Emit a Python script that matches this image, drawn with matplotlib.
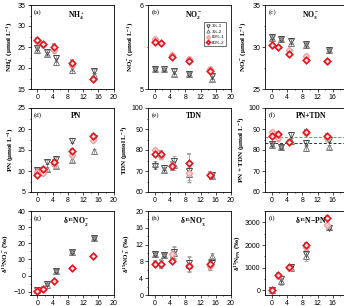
import matplotlib
matplotlib.use("Agg")
import matplotlib.pyplot as plt
from matplotlib.lines import Line2D
from matplotlib.ticker import MultipleLocator

plt.rcParams["font.family"] = ["Liberation Sans", "DejaVu Sans"]
plt.rcParams["mathtext.fontset"] = "custom"
plt.rcParams["mathtext.rm"] = "Liberation Serif:bold"
plt.rcParams["mathtext.it"] = "Liberation Serif:bold"
plt.rcParams["mathtext.bf"] = "Liberation Serif:bold"

# sampling times (two treatments sampled at slightly different times)
x3 = [0, 2.5, 5, 9, 15]
x8 = [0, 1.5, 4.5, 9, 14.5]
series = ["3%-1", "3%-2", "80%-1", "80%-2"]

# each panel: [3%-1, 3%-2, 80%-1, 80%-2]
nh4 = [[24.7, 23.7, 22.3, 20.2, 19.2], [24.4, 23.3, 21.5, 19.6, 18.4],
       [26.4, 25.5, 24.2, 20.8, 17.3], [26.7, 25.8, 25.1, 21.2, 17.4]]
no2 = [[5.24, 5.235, 5.21, 5.18, 5.15], [5.24, 5.235, 5.18, 5.175, 5.12],
       [5.60, 5.55, 5.41, 5.36, 5.24], [5.565, 5.545, 5.38, 5.33, 5.22]]
no3 = [[31.2, 31.0, 30.7, 30.3, 29.7], [31.1, 30.9, 30.5, 30.2, 29.6],
       [30.25, 30.05, 29.6, 28.9, 28.3], [30.2, 29.95, 29.15, 28.4, 28.3]]
pn = [[10.25, 12.05, 12.8, 17.15, 17.9], [10.1, 10.5, 11.3, 12.7, 14.65],
      [9.7, 9.6, 11.7, 13.9, 17.5], [9.15, 10.4, 12.05, 14.65, 18.4]]
tdn = [[72.5, 71.6, 75.0, 70.0, 68.0], [73.5, 70.6, 72.7, 68.7, 67.5],
       [80.0, 77.0, 73.0, 69.0, 68.7], [78.2, 77.9, 72.5, 74.0, 68.3]]
pn_tdn = [[83.0, 81.5, 87.0, 83.5, 85.0], [82.5, 81.3, 84.3, 81.0, 81.5],
          [88.5, 85.5, 84.0, 88.3, 85.5], [86.5, 87.5, 84.0, 88.5, 86.5]]
d15no2 = [[-9.0, -5.0, 3.0, 14.7, 23.0], [-9.2, -5.5, 2.8, 14.5, 23.3],
          [-9.3, -8.2, -3.6, 4.6, 12.2], [-9.5, -8.0, -3.5, 4.5, 12.0]]
d15no3 = [[9.7, 9.5, 10.2, 7.6, 7.7], [9.7, 9.6, 10.0, 7.2, 9.4],
          [7.5, 7.4, 9.8, 7.2, 7.0], [7.5, 7.4, 8.2, 6.9, 7.3]]
d15pn = [[0, 500, 1050, 1600, 2750], [0, 400, 1000, 1500, 2800],
         [0, 620, 1000, 1900, 2900], [0, 700, 1020, 2000, 3200]]

# standard deviations: [3% series, 80% series]
nh4_err = [[0.5, 0.5, 0.8, 0.8, 0.5], [0.4, 0.4, 0.6, 0.6, 0.4]]
no2_err = [[0.02, 0.02, 0.03, 0.03, 0.03], [0.02, 0.02, 0.02, 0.02, 0.02]]
no3_err = [[0.3, 0.3, 0.4, 0.3, 0.3], [0.2, 0.2, 0.2, 0.2, 0.2]]
pn_err = [[0.4, 0.5, 0.6, 0.6, 0.5], [0.4, 0.5, 0.5, 0.6, 0.5]]
tdn_err = [[1.5, 1.2, 2.0, 3.0, 1.0], [1.0, 1.5, 2.0, 4.0, 1.0]]
pn_tdn_err = [[1.0, 1.0, 1.5, 1.5, 1.0], [1.0, 1.0, 1.0, 1.0, 1.0]]
d15no2_err = [[0.8, 0.8, 1.0, 1.0, 1.0], [0.8, 0.8, 0.8, 0.8, 0.8]]
d15no3_err = [[0.5, 0.5, 1.5, 1.8, 0.6], [0.5, 1.0, 0.5, 0.5, 1.0]]
d15pn_err = [[50, 150, 80, 200, 100], [50, 80, 60, 100, 80]]

# mean levels shown as dashed lines in (f)
mean_80 = 86.3
mean_3 = 83.4

styles = [
    dict(marker="v", mfc="none", mec="#303030", mew=0.6, ms=4),
    dict(marker="^", mfc="none", mec="#6a6a6a", mew=0.6, ms=4),
    dict(marker="D", mfc="#fbd6d6", mec="#f3a0a0", mew=1.0, ms=3.3),
    dict(marker="D", mfc="#fde4e4", mec="#e3151c", mew=1.2, ms=3.3),
]

panels = [
    ("(a)", "NH$_4^+$", "NH$_4^+$ (μmol L$^{-1}$)", nh4, nh4_err, (15, 35), 5),
    ("(b)", "NO$_2^-$", "NO$_2^-$ (μmol L$^{-1}$)", no2, no2_err, (5, 6), 1),
    ("(c)", "NO$_3^-$", "NO$_3^-$ (μmol L$^{-1}$)", no3, no3_err, (25, 35), 5),
    ("(d)", "PN", "PN (μmol L$^{-1}$)", pn, pn_err, (5, 25), 5),
    ("(e)", "TDN", "TDN (μmol L$^{-1}$)", tdn, tdn_err, (60, 100), 10),
    ("(f)", "PN+TDN", "PN + TDN (μmol L$^{-1}$)", pn_tdn, pn_tdn_err, (60, 100), 10),
    ("(g)", "δ$^{15}$NO$_2^-$", "δ$^{15}$NO$_2^-$ (‰)", d15no2, d15no2_err, (-12, 40), 10),
    ("(h)", "δ$^{15}$NO$_3^-$", "δ$^{15}$NO$_3^-$ (‰)", d15no3, d15no3_err, (0, 20), 4),
    ("(i)", "δ$^{15}$N−PN", "δ$^{15}$N$_{PN}$ (‰)", d15pn, d15pn_err, (-200, 3500), 1000),
]

W, H = 344, 306
fig = plt.figure(figsize=(W / 100, H / 100), dpi=100)
lefts = [30.5, 148, 265]
tops = [5, 108, 211]
aw, ah = 83, 84

for i, (tag, title, ylabel, data, err, ylim, step) in enumerate(panels):
    r, c = divmod(i, 3)
    ax = fig.add_axes([lefts[c] / W, 1 - (tops[r] + ah) / H, aw / W, ah / H])
    for k in range(4):
        xs = x3 if k < 2 else x8
        ax.errorbar(xs, data[k], yerr=err[0 if k < 2 else 1], ls="none",
                    ecolor="#9a9a9a", elinewidth=0.6, capsize=1.5, capthick=0.6,
                    **styles[k])
    if tag == "(f)":
        ax.axhline(mean_80, color="#ef5a5a", lw=0.7, ls=(0, (3, 2)))
        ax.axhline(mean_3, color="#333333", lw=0.7, ls=(0, (3, 2)))
    ax.set_xlim(-1.8, 20)
    ax.set_ylim(*ylim)
    if c == 2:
        # the right column runs past the figure edge; its last label is cut
        ax.set_xticks([0, 4, 8, 12, 16])
    else:
        ax.xaxis.set_major_locator(MultipleLocator(4))
    ax.xaxis.set_minor_locator(MultipleLocator(2))
    ax.yaxis.set_major_locator(MultipleLocator(step))
    ax.yaxis.set_minor_locator(MultipleLocator(step / 2))
    ax.tick_params(which="both", direction="out", width=0.5, labelsize=5, pad=1.5)
    ax.tick_params(which="major", length=2)
    ax.tick_params(which="minor", length=1)
    for sp in ax.spines.values():
        sp.set_linewidth(0.6)
    ax.text(0.04, 0.95, tag, transform=ax.transAxes, ha="left", va="top",
            fontsize=5, family="Liberation Serif")
    ax.text(0.55, 0.95, title, transform=ax.transAxes, ha="center", va="top",
            fontsize=5.5, family="Liberation Serif", weight="bold")
    ax.set_ylabel(ylabel, fontsize=5, family="Liberation Serif", weight="bold",
                  labelpad=2)
    if tag == "(b)":
        handles = [Line2D([], [], ls="none", **st) for st in styles]
        leg = ax.legend(handles, series, loc="upper right",
                        bbox_to_anchor=(0.97, 0.82), fontsize=3.2,
                        frameon=True, fancybox=False, handlelength=1.0,
                        handletextpad=0.4, borderpad=0.4, labelspacing=0.3,
                        markerscale=0.6)
        leg.get_frame().set_edgecolor("black")
        leg.get_frame().set_linewidth(0.5)

fig.savefig("out.png", dpi=100)
